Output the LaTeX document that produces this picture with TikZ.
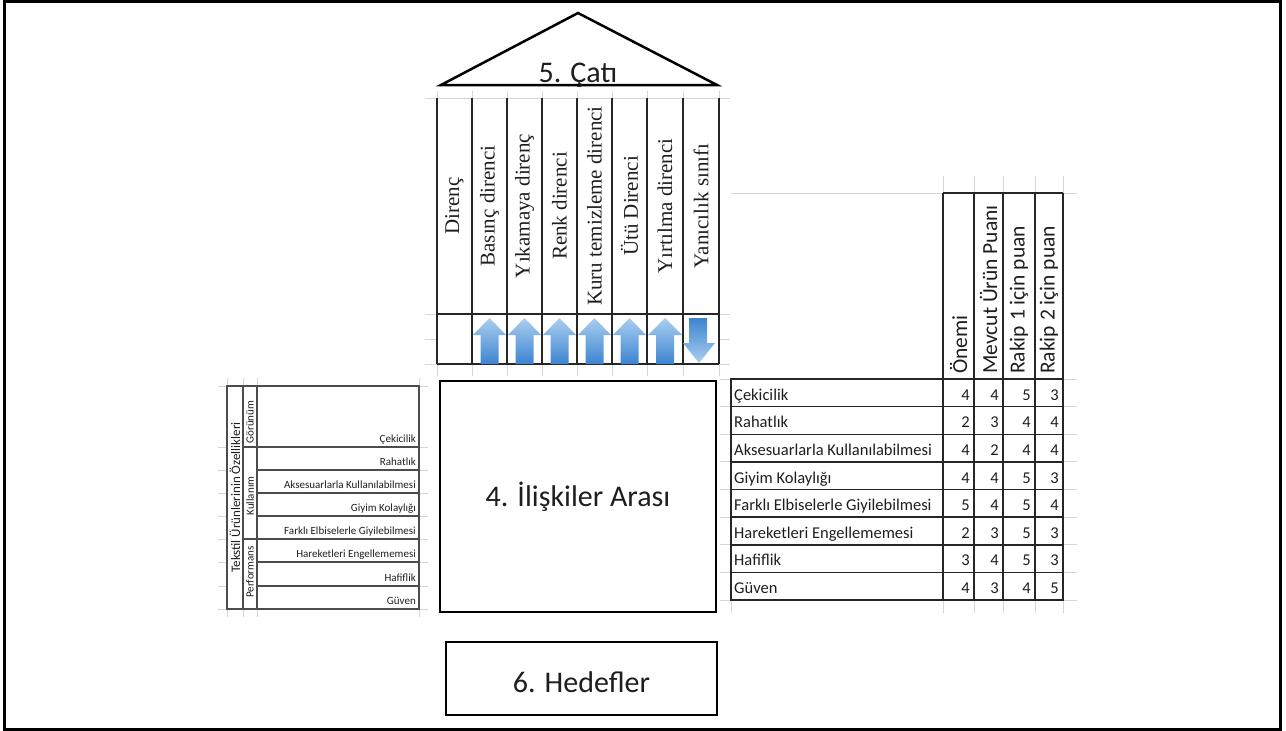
\documentclass[tikz,border=0pt]{standalone}
\usepackage{fontspec}
\setmainfont{Carlito}
\newfontfamily\hdserif{Liberation Serif}
\newcommand\fsz[1]{\fontsize{#1}{#1}\selectfont}
\definecolor{gridgray}{HTML}{D6D6D6}
\definecolor{arrlight}{HTML}{AACEF0}
\definecolor{arrdark}{HTML}{3C84D0}
\definecolor{ink}{HTML}{1E1E1E}
\tikzset{
  gridln/.style={draw=gridgray, line width=1pt},
  tline/.style={draw=black!85, line width=1.5pt},
  lline/.style={draw=black!70, line width=1.2pt},
  bigbox/.style={draw=black, line width=2.5pt},
  txt/.style={inner sep=0pt, text=ink},
  title/.style={txt, font=\fsz{30}},
  colhead/.style={txt, rotate=90, font=\hdserif\fsz{21}},
  rhead/.style={txt, rotate=90, anchor=west, font=\fsz{21.5}},
  rcell/.style={txt, font=\fsz{16.5}},
  lcell/.style={txt, font=\fsz{11}, anchor=base east},
  upshade/.style={top color=arrlight, bottom color=arrdark},
  downshade/.style={top color=arrdark, bottom color=arrlight}
}
\begin{document}
\begin{tikzpicture}[x=1pt,y=-1pt]
\useasboundingbox (0,0) rectangle (1286,731);
% outer frame
\draw[line width=3pt] (4.5,1.5) rectangle (1280.5,729.5);

% ---------- roof ----------
\draw[line width=2.5pt, line join=miter] (441,85) -- (578,13) -- (717,85) -- cycle;
\node[title, anchor=base] (cati) at (578,82) {5. Çatı};

% ---------- top table (columns) ----------
\foreach \x in {437,472,507,542,577,612,647,683,719} {
  \draw[gridln] (\x,91) -- (\x,98);
  \draw[gridln] (\x,364) -- (\x,376);
}
\draw[gridln] (425,98) -- (730,98);
\foreach \y in {314,339,364} {
  \draw[gridln] (425,\y) -- (437,\y);
  \draw[gridln] (719,\y) -- (730,\y);
}
\foreach \x in {437,472,507,542,577,612,647,683,719}
  \draw[tline] (\x,98) -- (\x,364);
\draw[tline] (437,314) -- (719,314);
\draw[tline] (437,364) -- (719,364);

\node[colhead] (h1) at (454.5,206) {Direnç};
\node[colhead] (h2) at (489.5,206) {Basınç direnci};
\node[colhead] (h3) at (524.5,206) {Yıkamaya direnç};
\node[colhead] (h4) at (559.5,206) {Renk direnci};
\node[colhead] (h5) at (594.5,206) {Kuru temizleme direnci};
\node[colhead] (h6) at (629.5,206) {Ütü Direnci};
\node[colhead] (h7) at (665,206) {Yırtılma direnci};
\node[colhead] (h8) at (701,206) {Yanıcılık sınıfı};

% arrows
\foreach \l/\r in {472/507,507/542,542/577,577/612,612/647,647/683} {
  \pgfmathsetmacro\c{(\l+\r)/2}
  \shade[upshade] (\l+1,335) -- (\c,318) -- (\r-1,335) -- (\c+9,335)
     -- (\c+9,364) -- (\c-9,364) -- (\c-9,335) -- cycle;
}
\shade[downshade] (689,318) -- (707,318) -- (707,343) -- (715,343)
   -- (699,363) -- (683,343) -- (689,343) -- cycle;

% ---------- relationships box ----------
\draw[bigbox] (440,381) rectangle (716,612);
\node[title, anchor=base] (iliski) at (578,506) {4. İlişkiler Arası};

% ---------- goals box ----------
\draw[bigbox] (446,642) rectangle (717,715);
\node[title, anchor=base] (hedef) at (581.5,692) {6. Hedefler};

% ---------- left table ----------
\foreach \x in {227,243,257,419} {
  \draw[gridln] (\x,378) -- (\x,386);
  \draw[gridln] (\x,609) -- (\x,617);
}
\foreach \y in {386,447,470,493,516,539,562,586,609} {
  \draw[gridln] (218,\y) -- (227,\y);
  \draw[gridln] (419,\y) -- (428,\y);
}
\draw[lline] (227,386) rectangle (419,609);
\draw[lline] (243,386) -- (243,609);
\draw[lline] (257,386) -- (257,609);
\foreach \y in {447,539} \draw[lline] (243,\y) -- (419,\y);
\foreach \y in {470,493,516,562,586} \draw[lline] (257,\y) -- (419,\y);

\node[txt, rotate=90, font=\fsz{13}] (tek) at (235,497.5) {Tekstil Ürünlerinin Özellikleri};
\node[txt, rotate=90, font=\fsz{11}] (gor) at (250,422) {Görünüm};
\node[txt, rotate=90, font=\fsz{11}] (kul) at (250,496) {Kullanım};
\node[txt, rotate=90, font=\fsz{11}] (per) at (250,572) {Performans};

\node[lcell] (l1) at (416,442) {Çekicilik};
\node[lcell] (l2) at (416,465) {Rahatlık};
\node[lcell] (l3) at (416,488) {Aksesuarlarla Kullanılabilmesi};
\node[lcell] (l4) at (416,511) {Giyim Kolaylığı};
\node[lcell] (l5) at (416,534) {Farklı Elbiselerle Giyilebilmesi};
\node[lcell] (l6) at (416,557) {Hareketleri Engellememesi};
\node[lcell] (l7) at (416,581) {Hafiflik};
\node[lcell] (l8) at (416,604) {Güven};

% ---------- right table ----------
\draw[gridln] (731,193) -- (1077,193);
\foreach \x in {943,974,1003,1035,1063}
  \draw[gridln] (\x,176) -- (\x,193);
\foreach \x in {731,943,974,1003,1035,1063}
  \draw[gridln] (\x,600) -- (\x,613);
\foreach \i in {0,...,8} {
  \pgfmathsetmacro\yy{379+27.625*\i}
  \draw[gridln] (720,\yy) -- (731,\yy);
  \draw[gridln] (1063,\yy) -- (1077,\yy);
}
\draw[tline] (943,193) -- (1063,193);
\foreach \x in {943,974,1003,1035,1063}
  \draw[tline] (\x,193) -- (\x,600);
\draw[tline] (731,379) rectangle (1063,600);
\foreach \i in {1,...,7} {
  \pgfmathsetmacro\yy{379+27.625*\i}
  \draw[tline] (731,\yy) -- (1063,\yy);
}

\node[rhead] (rh1) at (958.5,374) {Önemi};
\node[rhead] (rh2) at (988.5,374) {Mevcut Ürün Puanı};
\node[rhead] (rh3) at (1019,374) {Rakip 1 için puan};
\node[rhead] (rh4) at (1049,374) {Rakip 2 için puan};

\foreach \i/\lab/\a/\b/\c/\d in {
  1/Çekicilik/4/4/5/3,
  2/Rahatlık/2/3/4/4,
  3/Aksesuarlarla Kullanılabilmesi/4/2/4/4,
  4/Giyim Kolaylığı/4/4/5/3,
  5/Farklı Elbiselerle Giyilebilmesi/5/4/5/4,
  6/Hareketleri Engellememesi/2/3/5/3,
  7/Hafiflik/3/4/5/3,
  8/Güven/4/3/4/5} {
  \pgfmathsetmacro\yb{379+27.625*\i-6.5}
  \node[rcell, anchor=base west] (rl\i) at (734,\yb) {\lab};
  \node[rcell, anchor=base east] (ra\i) at (970,\yb) {\a};
  \node[rcell, anchor=base east] (rb\i) at (999,\yb) {\b};
  \node[rcell, anchor=base east] (rc\i) at (1031,\yb) {\c};
  \node[rcell, anchor=base east] (rd\i) at (1059,\yb) {\d};
}
\end{tikzpicture}
\end{document}
